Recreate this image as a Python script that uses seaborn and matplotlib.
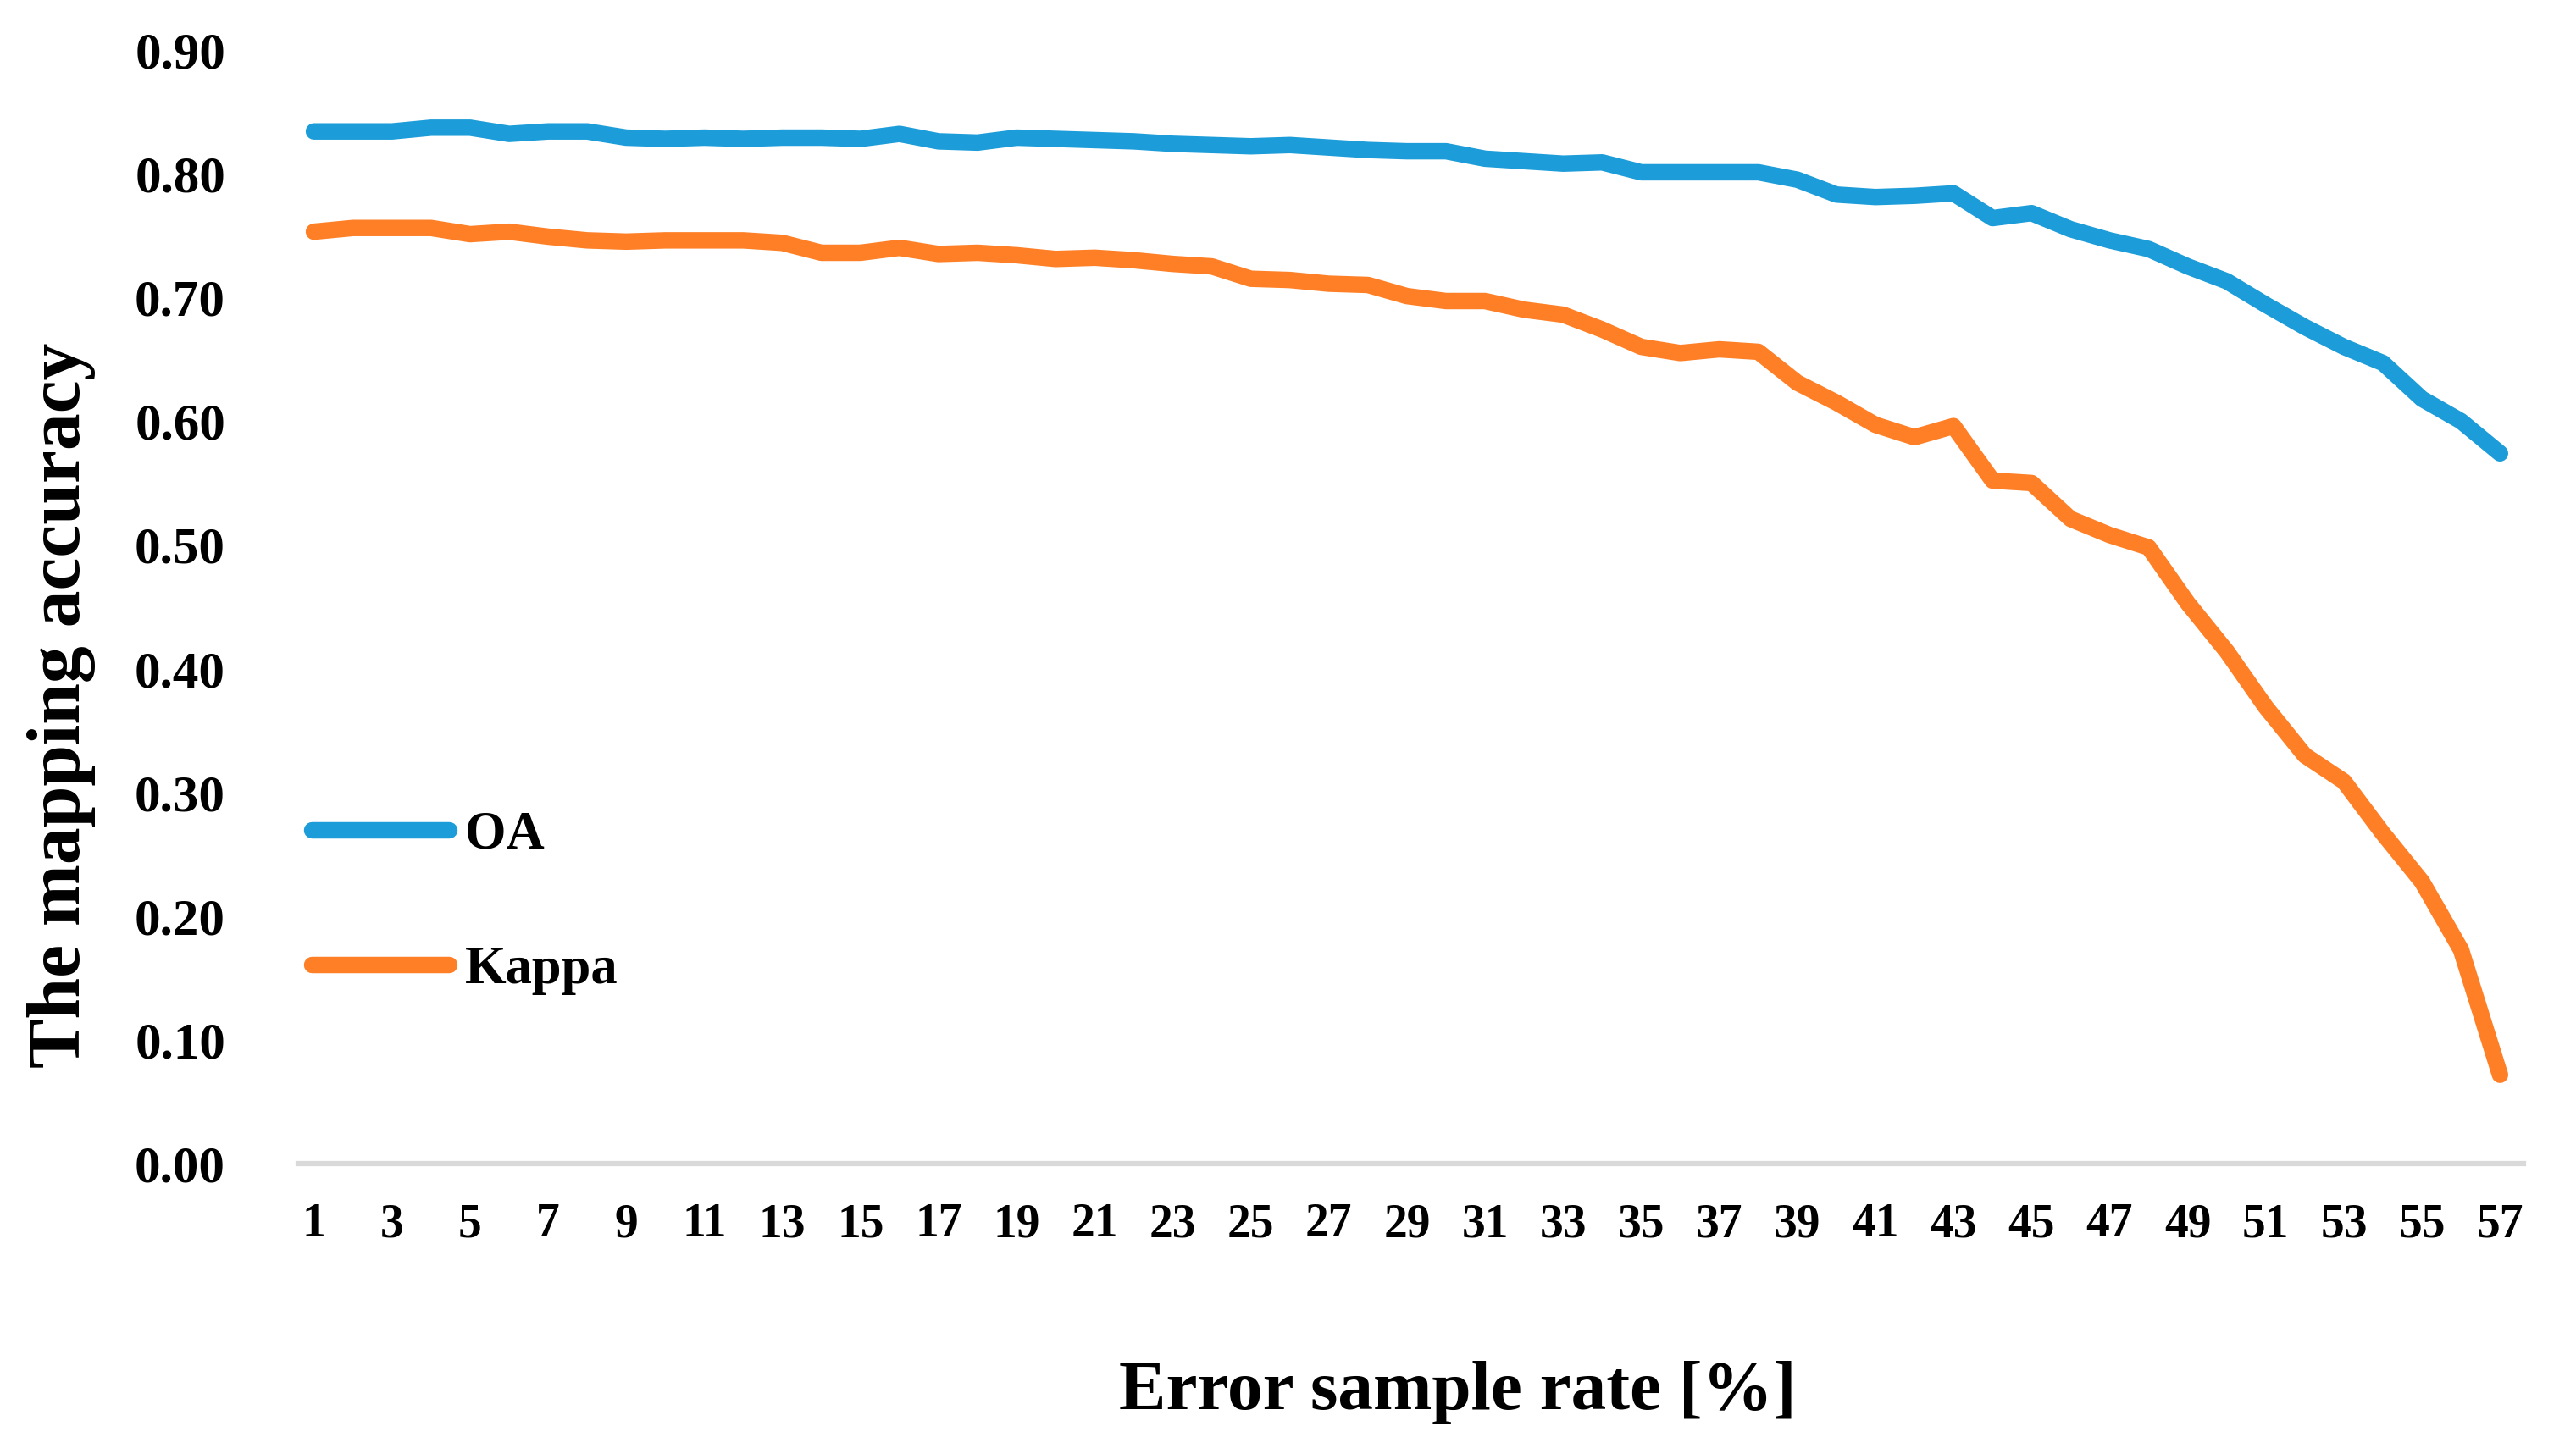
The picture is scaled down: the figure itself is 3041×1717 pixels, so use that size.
import pandas as pd
import matplotlib
matplotlib.use('Agg')
import matplotlib.pyplot as plt
import seaborn as sns

# Datos
tasa_error = list(range(1, 58))

oa = [0.834, 0.834, 0.834, 0.837, 0.837, 0.832, 0.834, 0.834, 0.829, 0.828,
      0.829, 0.828, 0.829, 0.829, 0.828, 0.832, 0.826, 0.825, 0.829, 0.828,
      0.827, 0.826, 0.824, 0.823, 0.822, 0.823, 0.821, 0.819, 0.818, 0.818,
      0.812, 0.810, 0.808, 0.809, 0.801, 0.801, 0.801, 0.801, 0.795, 0.783,
      0.781, 0.782, 0.784, 0.764, 0.768, 0.755, 0.746, 0.739, 0.725, 0.713,
      0.694, 0.676, 0.660, 0.647, 0.618, 0.600, 0.574]

kappa = [0.753, 0.756, 0.756, 0.756, 0.751, 0.753, 0.749, 0.746, 0.745, 0.746,
         0.746, 0.746, 0.744, 0.736, 0.736, 0.740, 0.735, 0.736, 0.734, 0.731,
         0.732, 0.730, 0.727, 0.725, 0.715, 0.714, 0.711, 0.710, 0.701, 0.697,
         0.697, 0.690, 0.686, 0.674, 0.660, 0.655, 0.658, 0.656, 0.631, 0.615,
         0.597, 0.587, 0.596, 0.552, 0.550, 0.521, 0.508, 0.498, 0.453, 0.414,
         0.369, 0.330, 0.309, 0.267, 0.228, 0.173, 0.072]

series_names = ['OA', 'Kappa']
colores = ['#1C9CD8', '#FE7F26']
y_ticks = [0.0, 0.1, 0.2, 0.3, 0.4, 0.5, 0.6, 0.7, 0.8, 0.9]
x_ticks = list(range(1, 58, 2))

df = pd.DataFrame({
    'rate': tasa_error * 2,
    'accuracy': oa + kappa,
    'serie': ['OA'] * len(oa) + ['Kappa'] * len(kappa),
})

sns.set_style('white')
plt.rcParams['font.family'] = ['Liberation Serif', 'DejaVu Serif']
plt.rcParams['font.weight'] = 'bold'
plt.rcParams['text.color'] = 'black'
plt.rcParams['axes.labelcolor'] = 'black'
plt.rcParams['xtick.color'] = 'black'
plt.rcParams['ytick.color'] = 'black'

fig = plt.figure(figsize=(30.41, 17.17), dpi=100)
ax = fig.add_axes([0.1158, 0.1995, 0.8638, 0.7663])

sns.lineplot(data=df, x='rate', y='accuracy', hue='serie', hue_order=series_names,
             palette=colores, linewidth=14, solid_capstyle='round',
             solid_joinstyle='round', ax=ax)

ax.set_xlim(0.6, 57.6)
ax.set_ylim(0, 0.9)
ax.set_xticks(x_ticks)
ax.set_xticklabels([str(t) for t in x_ticks], fontsize=40, fontweight='bold')
ax.set_yticks(y_ticks)
ax.set_yticklabels(['%.2f' % t for t in y_ticks], fontsize=44, fontweight='bold')
ax.tick_params(axis='x', length=0, pad=33)
ax.tick_params(axis='y', length=0, pad=62)

for lado in ['top', 'right', 'left']:
    ax.spines[lado].set_visible(False)
ax.spines['bottom'].set_color('#D9D9D9')
ax.spines['bottom'].set_linewidth(4.5)

ax.set_xlabel('Error sample rate [%]', fontsize=60, fontweight='bold', va='center')
ax.xaxis.set_label_coords(0.521, -0.205)
ax.set_ylabel('The mapping accuracy', fontsize=63, fontweight='bold', va='center')
ax.yaxis.set_label_coords(-0.1066, 0.412)

leg = ax.legend(loc='center left', bbox_to_anchor=(0.006, 0.234), frameon=False,
                fontsize=45, handlelength=2.6, handletextpad=0.3,
                labelspacing=1.62, borderpad=0, borderaxespad=0)
for t in leg.get_texts():
    t.set_fontweight('bold')
for h in leg.get_lines():
    h.set_linewidth(14)
    h.set_solid_capstyle('round')

fig.savefig('out.png', dpi=100)
